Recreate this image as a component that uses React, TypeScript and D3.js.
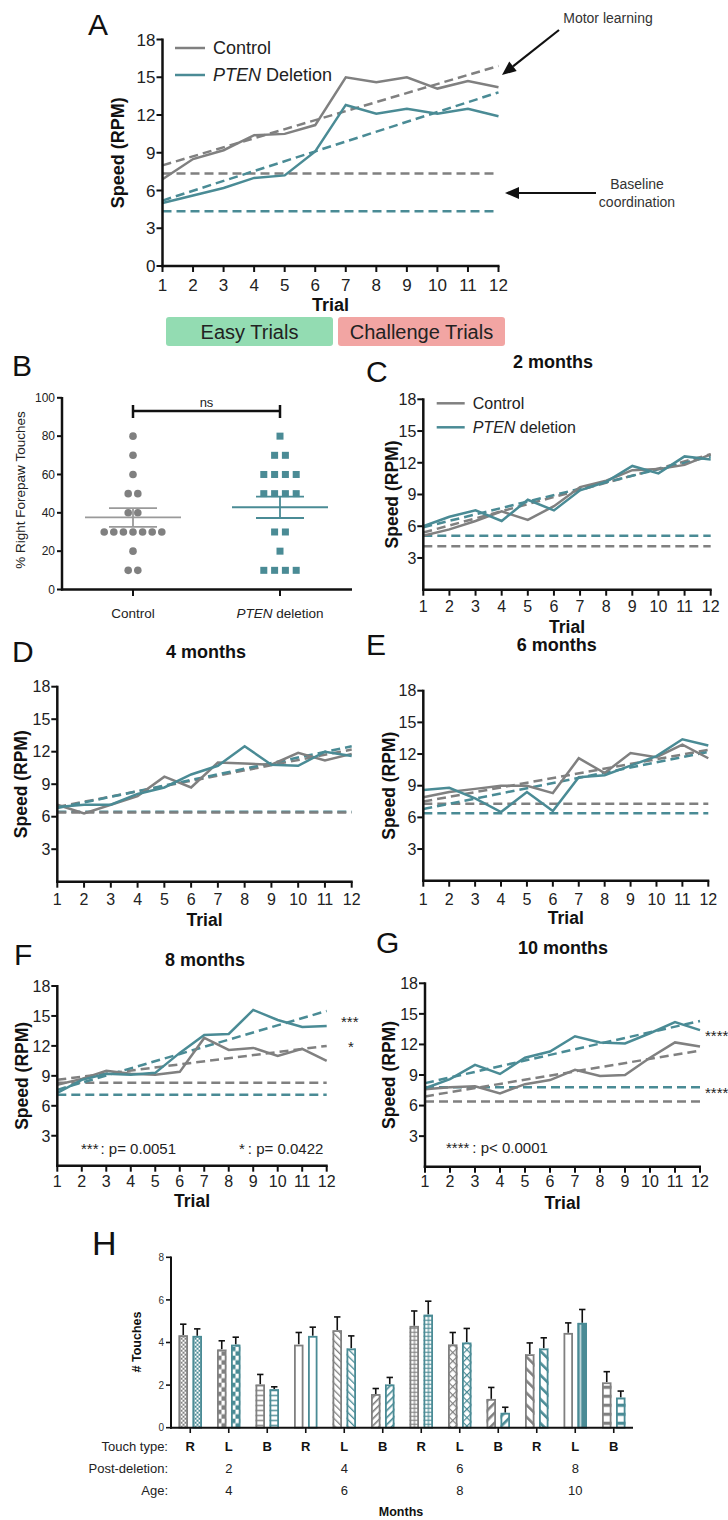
import React from 'react';
import * as d3 from 'd3';

const GRAY = '#808080';
const TEAL = '#4a8b95';
const FONT = "'Liberation Sans', Arial, Helvetica, sans-serif";

const trials = [1, 2, 3, 4, 5, 6, 7, 8, 9, 10, 11, 12];
const speedTicksA = [0, 3, 6, 9, 12, 15, 18];
const speedTicks = [3, 6, 9, 12, 15, 18];

// Panel A
const aControl = [6.9, 8.5, 9.2, 10.4, 10.5, 11.2, 15.0, 14.6, 15.0, 14.1, 14.7, 14.2];
const aPten = [5.0, 5.6, 6.2, 7.0, 7.2, 9.1, 12.8, 12.1, 12.5, 12.1, 12.5, 11.9];
const aControlTrend = [8.0, 15.9];
const aPtenTrend = [5.2, 13.8];
const aControlBase = 7.35;
const aPtenBase = 4.35;

// Panel C (2 months)
const cControl = [5.1, 5.7, 6.5, 7.4, 6.6, 7.9, 9.7, 10.3, 11.3, 11.4, 11.8, 12.8];
const cPten = [6.0, 6.9, 7.5, 6.5, 8.5, 7.5, 9.4, 10.2, 11.7, 11.0, 12.6, 12.3];
const cControlTrend = [5.4, 12.8];
const cPtenTrend = [5.9, 12.6];
const cControlBase = 4.1;
const cPtenBase = 5.1;

// Panel D (4 months)
const dControl = [7.1, 6.3, 7.1, 7.9, 9.7, 8.7, 11.0, 10.9, 10.8, 11.9, 11.2, 11.8];
const dPten = [6.9, 7.1, 7.1, 8.1, 8.7, 9.9, 10.7, 12.5, 10.8, 10.7, 12.0, 11.6];
const dControlTrend = [6.9, 12.2];
const dPtenTrend = [6.8, 12.5];
const dControlBase = 6.38;
const dPtenBase = 6.45;

// Panel E (6 months)
const eControl = [7.9, 8.4, 8.7, 9.0, 9.0, 8.3, 11.6, 10.2, 12.1, 11.7, 12.9, 11.6];
const ePten = [8.6, 8.8, 7.8, 6.5, 8.4, 6.6, 9.8, 10.0, 10.9, 11.8, 13.4, 12.8];
const eControlTrend = [7.5, 12.4];
const ePtenTrend = [6.8, 12.2];
const eControlBase = 7.3;
const ePtenBase = 6.4;

// Panel F (8 months)
const fControl = [8.1, 8.7, 9.5, 9.2, 9.1, 9.4, 12.8, 11.6, 11.8, 11.0, 11.7, 10.5];
const fPten = [7.3, 8.6, 9.2, 9.1, 9.3, 11.3, 13.1, 13.2, 15.6, 14.6, 13.9, 14.0];
const fControlTrend = [8.6, 12.0];
const fPtenTrend = [7.6, 15.5];
const fControlBase = 8.3;
const fPtenBase = 7.1;

// Panel G (10 months)
const gControl = [7.6, 7.8, 7.9, 7.2, 8.1, 8.5, 9.5, 8.9, 9.0, 10.7, 12.2, 11.8];
const gPten = [7.7, 8.6, 10.0, 9.1, 10.7, 11.3, 12.8, 12.2, 12.1, 13.1, 14.2, 13.4];
const gControlTrend = [6.9, 11.4];
const gPtenTrend = [8.2, 14.3];
const gControlBase = 6.4;
const gPtenBase = 7.8;

// Panel B
const bCategories = ['Control', 'PTEN'];
const bControlValues = [80, 70, 60, 50, 50, 40, 40, 30, 30, 30, 30, 30, 30, 30, 20, 10, 10];
const bPtenValues = [80, 70, 70, 60, 60, 60, 60, 50, 50, 50, 50, 30, 30, 20, 10, 10, 10, 10];
const bControlMean = 37.6;
const bControlSem = 4.9;
const bPtenMean = 42.9;
const bPtenSem = 5.6;
const bTicks = [0, 20, 40, 60, 80, 100];

// Panel H
const hTouchTypes = ['R', 'L', 'B', 'R', 'L', 'B', 'R', 'L', 'B', 'R', 'L', 'B'];
const hControl = [4.34, 3.67, 2.03, 3.9, 4.58, 1.58, 4.78, 3.91, 1.35, 3.45, 4.45, 2.13];
const hControlErr = [0.52, 0.41, 0.47, 0.57, 0.62, 0.26, 0.7, 0.56, 0.54, 0.53, 0.47, 0.5];
const hPten = [4.31, 3.9, 1.81, 4.31, 3.72, 2.03, 5.31, 4.0, 0.7, 3.72, 4.92, 1.41];
const hPtenErr = [0.33, 0.35, 0.11, 0.41, 0.59, 0.33, 0.63, 0.66, 0.26, 0.5, 0.63, 0.31];
const hPostDeletion = ['2', '4', '6', '8'];
const hAge = ['4', '6', '8', '10'];
const hTicks = [0, 2, 4, 6, 8];

type PanelProps = {
  x0: number; x1: number; yTop: number; yBot: number;
  control: number[]; pten: number[];
  controlTrend: number[]; ptenTrend: number[];
  controlBase: number; ptenBase: number;
  ticks: number[]; tickFont: number; labelFont: number;
  tickLabelY: number; trialY: number; speedX: number;
};

function LinePanel(p: PanelProps) {
  const x = d3.scaleLinear().domain([1, 12]).range([p.x0, p.x1]);
  const y = d3.scaleLinear().domain([0, 18]).range([p.yBot, p.yTop]);
  const line = d3.line<number>().x((_, i) => x(trials[i])).y((d) => y(d));
  const seg = d3
    .line<number>()
    .x((_, i) => x(i === 0 ? trials[0] : trials[trials.length - 1]))
    .y((d) => y(d));
  const dash = '9 5';
  const sw = 2.5;
  return (
    <g>
      <path d={seg([p.ptenBase, p.ptenBase]) || ''} stroke={TEAL} strokeWidth={sw} strokeDasharray={dash} fill="none" />
      <path d={seg([p.controlBase, p.controlBase]) || ''} stroke={GRAY} strokeWidth={sw} strokeDasharray={dash} fill="none" />
      <path d={seg(p.controlTrend) || ''} stroke={GRAY} strokeWidth={sw} strokeDasharray={dash} fill="none" />
      <path d={seg(p.ptenTrend) || ''} stroke={TEAL} strokeWidth={sw} strokeDasharray={dash} fill="none" />
      <path d={line(p.control) || ''} stroke={GRAY} strokeWidth={sw} fill="none" />
      <path d={line(p.pten) || ''} stroke={TEAL} strokeWidth={sw} fill="none" />
      {/* axes */}
      <line x1={p.x0} x2={p.x0} y1={p.yTop - 1} y2={p.yBot + 1.25} stroke="#111" strokeWidth={2.5} />
      <line x1={p.x0 - 1.25} x2={p.x1 + 1} y1={p.yBot} y2={p.yBot} stroke="#111" strokeWidth={2.5} />
      {p.ticks.map((t) => (
        <g key={'yt' + t}>
          <line x1={p.x0 - 6} x2={p.x0} y1={y(t)} y2={y(t)} stroke="#111" strokeWidth={2} />
          <text x={p.x0 - 7} y={y(t)} dy="0.36em" textAnchor="end" fontSize={p.tickFont} fill="#222">{t}</text>
        </g>
      ))}
      {trials.map((t) => (
        <g key={'xt' + t}>
          <line x1={x(t)} x2={x(t)} y1={p.yBot} y2={p.yBot + 6} stroke="#111" strokeWidth={2} />
          <text x={x(t)} y={p.tickLabelY} dy="0.36em" textAnchor="middle" fontSize={p.tickFont} fill="#222">{t}</text>
        </g>
      ))}
      <text x={(p.x0 + p.x1) / 2} y={p.trialY} dy="0.36em" textAnchor="middle" fontSize={p.labelFont} fontWeight="bold" fill="#111">Trial</text>
      <text
        transform={`translate(${p.speedX},${(p.yTop + p.yBot) / 2}) rotate(-90)`}
        dy="0.36em" textAnchor="middle" fontSize={p.labelFont} fontWeight="bold" fill="#111"
      >Speed (RPM)</text>
    </g>
  );
}

function Legend({ x, y1, y2, len, font, ptenWord }: { x: number; y1: number; y2: number; len: number; font: number; ptenWord: string }) {
  return (
    <g fontSize={font} fill="#222">
      <line x1={x} x2={x + len} y1={y1} y2={y1} stroke={GRAY} strokeWidth={2.5} />
      <line x1={x} x2={x + len} y1={y2} y2={y2} stroke={TEAL} strokeWidth={2.5} />
      <text x={x + len + 8} y={y1} dy="0.36em">Control</text>
      <text x={x + len + 8} y={y2} dy="0.36em">
        <tspan fontStyle="italic">PTEN</tspan> {ptenWord}
      </text>
    </g>
  );
}

function PanelB() {
  const x = d3.scalePoint<string>().domain(bCategories).range([133, 280]);
  const y = d3.scaleLinear().domain([0, 100]).range([589.5, 397.8]);
  const swarm = (vals: number[], spacing: number) => {
    const counts = d3.rollup(vals, (v) => v.length, (d) => d);
    const seen = new Map<number, number>();
    return vals.map((v) => {
      const n = counts.get(v) || 1;
      const k = seen.get(v) || 0;
      seen.set(v, k + 1);
      return { v, off: (k - (n - 1) / 2) * spacing };
    });
  };
  const cx = x('Control') || 0;
  const px = x('PTEN') || 0;
  const meanBar = (c: number, mean: number, sem: number, color: string) => (
    <g stroke={color} strokeWidth={1.8}>
      <line x1={c - 48} x2={c + 48} y1={y(mean)} y2={y(mean)} />
      <line x1={c} x2={c} y1={y(mean - sem)} y2={y(mean + sem)} />
      <line x1={c - 24} x2={c + 24} y1={y(mean - sem)} y2={y(mean - sem)} />
      <line x1={c - 24} x2={c + 24} y1={y(mean + sem)} y2={y(mean + sem)} />
    </g>
  );
  return (
    <g>
      {swarm(bControlValues, 9.6).map((d, i) => (
        <circle key={'c' + i} cx={cx + d.off} cy={y(d.v)} r={3.8} fill={GRAY} />
      ))}
      {swarm(bPtenValues, 10.8).map((d, i) => (
        <rect key={'p' + i} x={px + d.off - 3.5} y={y(d.v) - 3.5} width={7} height={7} fill={TEAL} />
      ))}
      {meanBar(cx, bControlMean, bControlSem, '#9a9a9a')}
      {meanBar(px, bPtenMean, bPtenSem, TEAL)}
      <line x1={62} x2={62} y1={397} y2={590.5} stroke="#111" strokeWidth={2.5} />
      <line x1={61} x2={352} y1={589.5} y2={589.5} stroke="#111" strokeWidth={2.5} />
      {bTicks.map((t) => (
        <g key={t}>
          <line x1={57} x2={62} y1={y(t)} y2={y(t)} stroke="#111" strokeWidth={2} />
          <text x={55} y={y(t)} dy="0.36em" textAnchor="end" fontSize={12} fill="#222">{t}</text>
        </g>
      ))}
      {bCategories.map((c) => (
        <line key={c} x1={x(c)} x2={x(c)} y1={589.5} y2={596} stroke="#111" strokeWidth={2} />
      ))}
      <text x={cx} y={613} dy="0.36em" textAnchor="middle" fontSize={13.5} fill="#222">Control</text>
      <text x={px} y={613} dy="0.36em" textAnchor="middle" fontSize={13.5} fill="#222">
        <tspan fontStyle="italic">PTEN</tspan> deletion
      </text>
      <text transform="translate(20,490) rotate(-90)" dy="0.36em" textAnchor="middle" fontSize={13.5} fill="#222">% Right Forepaw Touches</text>
      {/* significance bracket */}
      <g stroke="#111" strokeWidth={2.5}>
        <line x1={cx} x2={px} y1={411} y2={411} />
        <line x1={cx} x2={cx} y1={405} y2={418} />
        <line x1={px} x2={px} y1={405} y2={418} />
      </g>
      <text x={(cx + px) / 2} y={402} dy="0.36em" textAnchor="middle" fontSize={13} fill="#222">ns</text>
    </g>
  );
}

function hPattern(id: string, kind: number, color: string, bx: number, by: number) {
  const common = { id, patternUnits: 'userSpaceOnUse' as const, x: bx, y: by };
  switch (kind) {
    case 0:
      return (
        <pattern key={id} {...common} width={4} height={4}>
          <rect x={0} y={0} width={2} height={2} fill={color} />
          <rect x={2} y={2} width={2} height={2} fill={color} />
        </pattern>
      );
    case 1:
      return (
        <pattern key={id} {...common} width={9} height={9}>
          <rect x={0.5} y={0} width={4} height={4.5} fill={color} />
          <rect x={4.5} y={4.5} width={4} height={4.5} fill={color} />
        </pattern>
      );
    case 2:
      return (
        <pattern key={id} {...common} width={10} height={5}>
          <rect x={0} y={2} width={10} height={1.4} fill={color} />
        </pattern>
      );
    case 4:
      return (
        <pattern key={id} {...common} width={5} height={5} patternTransform="rotate(-45)">
          <rect x={0} y={0} width={1.3} height={5} fill={color} />
        </pattern>
      );
    case 5:
      return (
        <pattern key={id} {...common} width={5} height={5} patternTransform="rotate(45)">
          <rect x={0} y={0} width={1.6} height={5} fill={color} />
        </pattern>
      );
    case 6:
      return (
        <pattern key={id} {...common} width={10} height={4}>
          <rect x={0} y={0} width={10} height={1.1} fill={color} />
          <rect x={4.4} y={0} width={1.1} height={4} fill={color} />
        </pattern>
      );
    case 7:
      return (
        <pattern key={id} {...common} width={6} height={6} patternTransform="rotate(45)">
          <rect x={0} y={0} width={1.2} height={6} fill={color} />
          <rect x={0} y={0} width={6} height={1.2} fill={color} />
        </pattern>
      );
    case 8:
      return (
        <pattern key={id} {...common} width={7} height={7} patternTransform="rotate(45)">
          <rect x={0} y={0} width={2.6} height={7} fill={color} />
        </pattern>
      );
    case 9:
      return (
        <pattern key={id} {...common} width={8.5} height={8.5} patternTransform="rotate(-45)">
          <rect x={0} y={0} width={2.6} height={8.5} fill={color} />
        </pattern>
      );
    case 10:
      return (
        <pattern key={id} {...common} width={10} height={10}>
          <rect x={0} y={0} width={10} height={10} fill={color === TEAL ? color : 'white'} />
          {color === TEAL && <rect x={2.2} y={0} width={1.3} height={10} fill="white" />}
        </pattern>
      );
    case 11:
      return (
        <pattern key={id} {...common} width={10} height={9}>
          <rect x={0} y={3} width={10} height={3.2} fill={color} />
        </pattern>
      );
    default:
      return (
        <pattern key={id} {...common} width={10} height={10}>
          <rect x={0} y={0} width={10} height={10} fill="white" />
        </pattern>
      );
  }
}

function PanelH() {
  const axisX = 171;
  const idx = hTouchTypes.map((_, i) => String(i));
  const x = d3.scaleBand<string>().domain(idx).range([axisX, 633]);
  const y = d3.scaleLinear().domain([0, 8]).range([1427.7, 1257.3]);
  const bw = 9.5;
  const off = 7;
  const bars = idx.flatMap((k, i) => {
    const c = (x(k) || 0) + x.bandwidth() / 2;
    return [
      { i, s: 'g', color: GRAY, cx: c - off, v: hControl[i], e: hControlErr[i] },
      { i, s: 't', color: TEAL, cx: c + off, v: hPten[i], e: hPtenErr[i] },
    ];
  });
  const center = (i: number) => (x(String(i)) || 0) + x.bandwidth() / 2;
  return (
    <g>
      <defs>
        {bars.map((b) => hPattern(`hp${b.i}${b.s}`, b.i, b.color, b.cx - bw / 2, y(0)))}
      </defs>
      {bars.map((b) => (
        <g key={`b${b.i}${b.s}`}>
          <line x1={b.cx} x2={b.cx} y1={y(b.v)} y2={y(b.v + b.e)} stroke="#111" strokeWidth={1.6} />
          <line x1={b.cx - 3.2} x2={b.cx + 3.2} y1={y(b.v + b.e)} y2={y(b.v + b.e)} stroke="#111" strokeWidth={1.6} />
          <rect x={b.cx - bw / 2} y={y(b.v)} width={bw} height={y(0) - y(b.v)} fill="white" />
          <rect x={b.cx - bw / 2} y={y(b.v)} width={bw} height={y(0) - y(b.v)} fill={`url(#hp${b.i}${b.s})`} />
          <rect x={b.cx - bw / 2 + 0.9} y={y(b.v) + 0.9} width={bw - 1.8} height={y(0) - y(b.v) - 0.9} fill="none" stroke={b.color} strokeWidth={1.8} />
        </g>
      ))}
      <line x1={axisX} x2={axisX} y1={1256.5} y2={1428.7} stroke="#111" strokeWidth={2} />
      <line x1={axisX - 1} x2={633} y1={1427.7} y2={1427.7} stroke="#111" strokeWidth={2} />
      {hTicks.map((t) => (
        <g key={t}>
          <line x1={axisX - 5} x2={axisX} y1={y(t)} y2={y(t)} stroke="#111" strokeWidth={1.6} />
          <text x={axisX - 7} y={y(t)} dy="0.36em" textAnchor="end" fontSize={10} fill="#333">{t}</text>
        </g>
      ))}
      {idx.map((k, i) => (
        <g key={'xt' + k}>
          <line x1={center(i)} x2={center(i)} y1={1427.7} y2={1433} stroke="#111" strokeWidth={1.6} />
          <text x={center(i)} y={1446.5} dy="0.36em" textAnchor="middle" fontSize={13} fontWeight="bold" fill="#111">{hTouchTypes[i]}</text>
        </g>
      ))}
      {hPostDeletion.map((m, j) => (
        <text key={'pd' + j} x={center(j * 3 + 1)} y={1468.3} dy="0.36em" textAnchor="middle" fontSize={13} fill="#222">{m}</text>
      ))}
      {hAge.map((m, j) => (
        <text key={'ag' + j} x={center(j * 3 + 1)} y={1490} dy="0.36em" textAnchor="middle" fontSize={13} fill="#222">{m}</text>
      ))}
      <text x={168} y={1446.5} dy="0.36em" textAnchor="end" fontSize={13} fill="#222">Touch type:</text>
      <text x={168} y={1468.3} dy="0.36em" textAnchor="end" fontSize={13} fill="#222">Post-deletion:</text>
      <text x={168} y={1490} dy="0.36em" textAnchor="end" fontSize={13} fill="#222">Age:</text>
      <text x={401} y={1511.7} dy="0.36em" textAnchor="middle" fontSize={12.5} fontWeight="bold" fill="#111">Months</text>
      <text transform="translate(136,1342) rotate(-90)" dy="0.36em" textAnchor="middle" fontSize={12.5} fontWeight="bold" fill="#111"># Touches</text>
    </g>
  );
}

function Arrow({ x1, y1, x2, y2 }: { x1: number; y1: number; x2: number; y2: number }) {
  const ang = Math.atan2(y2 - y1, x2 - x1);
  const L = 14, W = 6;
  const bx = x2 - L * Math.cos(ang), by = y2 - L * Math.sin(ang);
  const px = -Math.sin(ang) * W, py = Math.cos(ang) * W;
  return (
    <g>
      <line x1={x1} y1={y1} x2={bx} y2={by} stroke="#111" strokeWidth={2.2} />
      <path d={`M${x2},${y2}L${bx + px},${by + py}L${bx - px},${by - py}Z`} fill="#111" />
    </g>
  );
}

const panelLetter = (t: string, x: number, y: number, size = 30) => (
  <text x={x} y={y} fontSize={size} fill="#111">{t}</text>
);

export default function App() {
  return (
    <svg width={728} height={1520} style={{ position: 'absolute', left: 0, top: 0 }} fontFamily={FONT}>
      <rect x={0} y={0} width={728} height={1520} fill="white" />

      {/* Panel A */}
      {panelLetter('A', 88, 35)}
      <LinePanel
        x0={162.5} x1={498.5} yTop={39.5} yBot={266}
        control={aControl} pten={aPten}
        controlTrend={aControlTrend} ptenTrend={aPtenTrend}
        controlBase={aControlBase} ptenBase={aPtenBase}
        ticks={speedTicksA} tickFont={17} labelFont={18}
        tickLabelY={285} trialY={305} speedX={118}
      />
      <Legend x={175} y1={48} y2={75} len={30} font={18} ptenWord="Deletion" />
      <rect x={166} y={317} width={167} height={29} rx={3} fill="#93dcb2" />
      <rect x={338} y={317} width={167} height={29} rx={3} fill="#f2a5a3" />
      <text x={249.5} y={332} dy="0.36em" textAnchor="middle" fontSize={20} fill="#222">Easy Trials</text>
      <text x={421.5} y={332} dy="0.36em" textAnchor="middle" fontSize={20} fill="#222">Challenge Trials</text>
      <text x={608} y={18} dy="0.36em" textAnchor="middle" fontSize={14} fill="#333">Motor learning</text>
      <Arrow x1={559} y1={30} x2={502} y2={75} />
      <text x={637} y={184} dy="0.36em" textAnchor="middle" fontSize={14} fill="#333">Baseline</text>
      <text x={637} y={202} dy="0.36em" textAnchor="middle" fontSize={14} fill="#333">coordination</text>
      <Arrow x1={596} y1={193} x2={505} y2={193} />

      {/* Panel B */}
      {panelLetter('B', 12, 376)}
      <PanelB />

      {/* Panel C */}
      {panelLetter('C', 366, 382)}
      <text x={553} y={362} dy="0.36em" textAnchor="middle" fontSize={18} fontWeight="bold" fill="#111">2 months</text>
      <LinePanel
        x0={423.3} x1={710.7} yTop={399.3} yBot={589.7}
        control={cControl} pten={cPten}
        controlTrend={cControlTrend} ptenTrend={cPtenTrend}
        controlBase={cControlBase} ptenBase={cPtenBase}
        ticks={speedTicks} tickFont={16} labelFont={17.5}
        tickLabelY={606.7} trialY={627} speedX={391.7}
      />
      <Legend x={436.7} y1={403.3} y2={427.3} len={28} font={16} ptenWord="deletion" />

      {/* Panel D */}
      {panelLetter('D', 12, 662)}
      <text x={206} y={652} dy="0.36em" textAnchor="middle" fontSize={18} fontWeight="bold" fill="#111">4 months</text>
      <LinePanel
        x0={57.3} x1={351.7} yTop={686.7} yBot={881.7}
        control={dControl} pten={dPten}
        controlTrend={dControlTrend} ptenTrend={dPtenTrend}
        controlBase={dControlBase} ptenBase={dPtenBase}
        ticks={speedTicks} tickFont={16} labelFont={17.5}
        tickLabelY={899.3} trialY={920} speedX={21}
      />

      {/* Panel E */}
      {panelLetter('E', 366, 655)}
      <text x={556.7} y={645} dy="0.36em" textAnchor="middle" fontSize={18} fontWeight="bold" fill="#111">6 months</text>
      <LinePanel
        x0={423.3} x1={708.3} yTop={690.7} yBot={880.7}
        control={eControl} pten={ePten}
        controlTrend={eControlTrend} ptenTrend={ePtenTrend}
        controlBase={eControlBase} ptenBase={ePtenBase}
        ticks={speedTicks} tickFont={16} labelFont={17.5}
        tickLabelY={899} trialY={918} speedX={388.3}
      />

      {/* Panel F */}
      {panelLetter('F', 14, 965)}
      <text x={205} y={960} dy="0.36em" textAnchor="middle" fontSize={18} fontWeight="bold" fill="#111">8 months</text>
      <LinePanel
        x0={57.3} x1={326.7} yTop={986} yBot={1165.7}
        control={fControl} pten={fPten}
        controlTrend={fControlTrend} ptenTrend={fPtenTrend}
        controlBase={fControlBase} ptenBase={fPtenBase}
        ticks={speedTicks} tickFont={16} labelFont={17.5}
        tickLabelY={1181.7} trialY={1201} speedX={21.7}
      />
      <text x={341} y={1027} fontSize={15} fill="#222">***</text>
      <text x={348} y={1052} fontSize={15} fill="#222">*</text>
      <text x={81} y={1154} fontSize={15} fill="#222">***<tspan dx={2}>: p= 0.0051</tspan></text>
      <text x={239} y={1154} fontSize={15} fill="#222">*<tspan dx={3}>: p= 0.0422</tspan></text>

      {/* Panel G */}
      {panelLetter('G', 376, 953)}
      <text x={563} y={948} dy="0.36em" textAnchor="middle" fontSize={18} fontWeight="bold" fill="#111">10 months</text>
      <LinePanel
        x0={425} x1={700} yTop={983.3} yBot={1166.7}
        control={gControl} pten={gPten}
        controlTrend={gControlTrend} ptenTrend={gPtenTrend}
        controlBase={gControlBase} ptenBase={gPtenBase}
        ticks={speedTicks} tickFont={16} labelFont={17.5}
        tickLabelY={1181.7} trialY={1203} speedX={388.3}
      />
      <text x={705} y={1041} fontSize={15} fill="#222">****</text>
      <text x={705} y={1098} fontSize={15} fill="#222">****</text>
      <text x={446} y={1153} fontSize={15} fill="#222">****<tspan dx={3}>: p&lt; 0.0001</tspan></text>

      {/* Panel H */}
      {panelLetter('H', 92, 1255, 34)}
      <PanelH />
    </svg>
  );
}
